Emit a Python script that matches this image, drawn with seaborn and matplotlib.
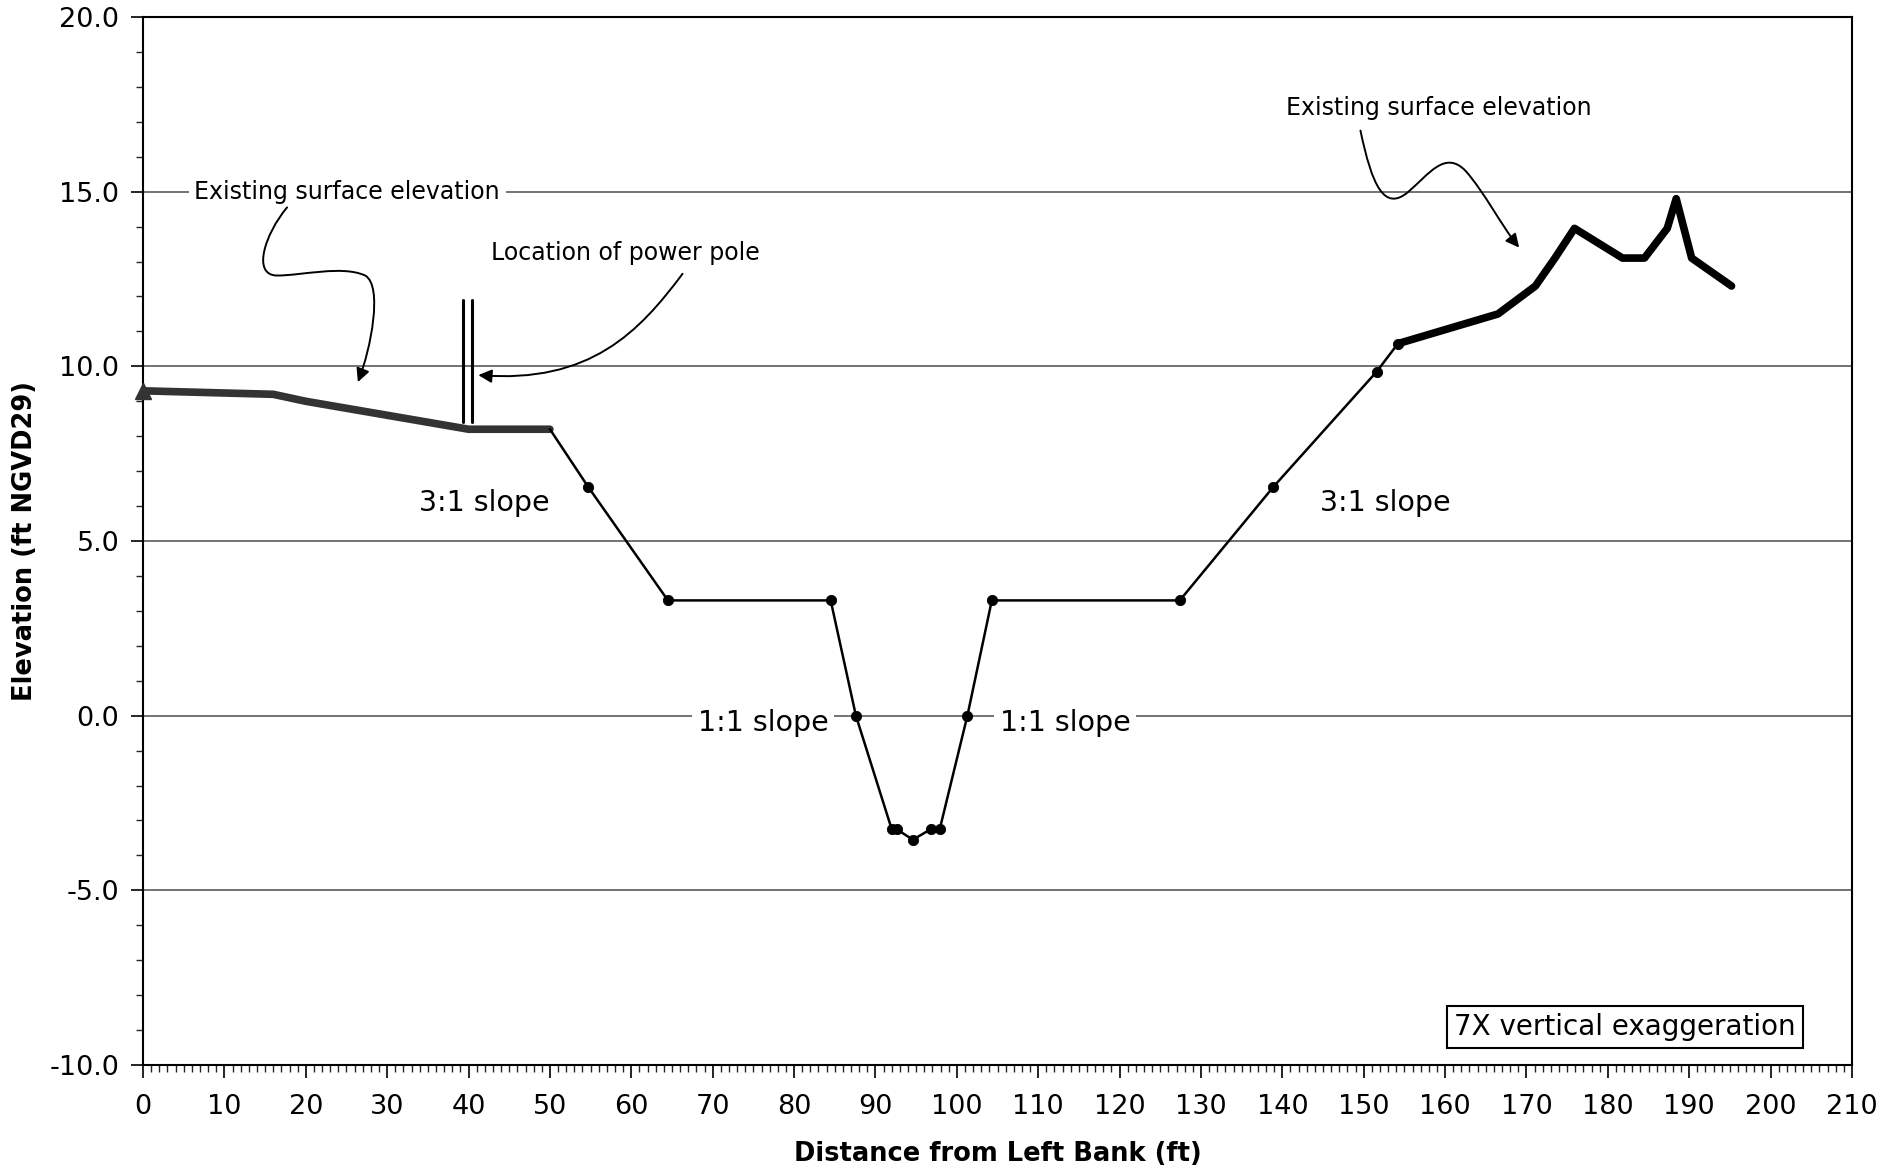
import numpy as np
import matplotlib
matplotlib.use("Agg")
import matplotlib.pyplot as plt
from matplotlib.path import Path
from matplotlib.patches import FancyArrowPatch
from matplotlib.ticker import MultipleLocator, FormatStrFormatter
import seaborn as sns

# ── Data ──────────────────────────────────────────────────────────────────────

# existing ground, left bank (thick grey)
left_x = [0, 16, 20, 40, 50]
left_y = [9.3, 9.2, 9.0, 8.2, 8.2]

# design cross-section (thin black with dots)
design_x = [50, 54.7, 64.5, 84.5, 87.6, 92.0, 92.6, 94.6, 96.8, 97.9,
            101.3, 104.3, 127.4, 138.9, 151.6, 154.2]
design_y = [8.2, 6.55, 3.3, 3.3, 0.0, -3.25, -3.25, -3.55, -3.25, -3.25,
            0.0, 3.3, 3.3, 6.55, 9.85, 10.65]

# existing ground, right bank (thick black)
right_x = [154.2, 166.5, 171.1, 173.5, 175.9, 181.8, 184.5, 187.3, 188.4, 190.3, 195.2]
right_y = [10.65, 11.5, 12.3, 13.1, 13.95, 13.1, 13.1, 13.95, 14.8, 13.1, 12.3]

# power pole (two vertical strokes)
pole_x = [39.3, 40.4]
pole_y = [8.4, 11.9]

x_label = "Distance from Left Bank (ft)"
y_label = "Elevation (ft NGVD29)"

# ── Figure ────────────────────────────────────────────────────────────────────

sns.set_style("white")
plt.rcParams["font.family"] = ["DejaVu Sans"]
plt.rcParams["axes.unicode_minus"] = False
plt.rcParams["text.color"] = "black"
plt.rcParams["axes.labelcolor"] = "black"

fig = plt.figure(figsize=(19.02, 11.66), dpi=100)
ax = fig.add_axes([0.0752, 0.0866, 0.8985, 0.8988])

ax.set_xlim(0, 210)
ax.set_ylim(-10, 20)

# horizontal gridlines
for yv in [15, 10, 5, 0, -5]:
    ax.axhline(yv, color="#4d4d4d", lw=1.1, zorder=1)

sns.lineplot(x=left_x, y=left_y, ax=ax, color="#333333", lw=5.5,
             sort=False, estimator=None, zorder=3)
ax.plot(left_x[0], left_y[0], marker="^", ms=11, color="#333333",
        clip_on=False, zorder=4)

sns.lineplot(x=design_x, y=design_y, ax=ax, color="black", lw=1.8,
             sort=False, estimator=None, zorder=3)
sns.scatterplot(x=design_x[1:], y=design_y[1:], ax=ax, color="black",
                s=55, edgecolor="black", zorder=4)

sns.lineplot(x=right_x, y=right_y, ax=ax, color="black", lw=5.5,
             sort=False, estimator=None, zorder=3)

for px in pole_x:
    ax.plot([px, px], pole_y, color="black", lw=2.2, zorder=3)

# ── Annotations ───────────────────────────────────────────────────────────────

white_box = dict(facecolor="white", edgecolor="none", pad=4)

ax.text(6.3, 15, "Existing surface elevation", fontsize=17, va="center",
        ha="left", bbox=white_box, zorder=5)
ax.text(42.8, 13.25, "Location of power pole", fontsize=17, va="center", ha="left")
ax.text(41.9, 6.1, "3:1 slope", fontsize=20.5, va="center", ha="center")
ax.text(152.6, 6.1, "3:1 slope", fontsize=20.5, va="center", ha="center")
ax.text(76.2, -0.2, "1:1 slope", fontsize=20.5, va="center", ha="center",
        bbox=white_box, zorder=5)
ax.text(113.3, -0.2, "1:1 slope", fontsize=20.5, va="center", ha="center",
        bbox=white_box, zorder=5)
ax.text(159.2, 17.4, "Existing surface elevation", fontsize=17, va="center",
        ha="center")
ax.text(182.1, -8.92, "7X vertical exaggeration", fontsize=20, va="center",
        ha="center", bbox=dict(facecolor="white", edgecolor="black", lw=1.5, pad=5))


def curly_arrow(verts):
    codes = [Path.MOVETO] + [Path.CURVE4] * (len(verts) - 1)
    arrow = FancyArrowPatch(path=Path(verts, codes), arrowstyle="-|>",
                            mutation_scale=20, lw=1.4, color="black",
                            transform=ax.transData, zorder=6)
    ax.add_patch(arrow)


# left bank label -> ground line
curly_arrow([(17.7, 14.55), (15.0, 13.8), (13.3, 12.6), (16.5, 12.6),
             (19.5, 12.6), (24.5, 12.9), (27.3, 12.6),
             (29.5, 12.3), (28.0, 10.5), (26.4, 9.55)])
# power pole label -> pole
curly_arrow([(66.3, 12.65), (61.0, 11.0), (55.0, 9.5), (41.2, 9.75)])
# right bank label -> ground line
curly_arrow([(149.6, 16.75), (151.0, 15.2), (152.5, 14.4), (155.5, 15.0),
             (158.0, 15.5), (160.0, 16.2), (162.5, 15.6),
             (164.8, 15.0), (167.0, 14.0), (169.1, 13.4)])

# ── Axes styling ──────────────────────────────────────────────────────────────

for side in ["left", "right", "top", "bottom"]:
    ax.spines[side].set_visible(True)
    ax.spines[side].set_color("black")
    ax.spines[side].set_linewidth(1.5)

ax.xaxis.set_major_locator(MultipleLocator(10))
ax.xaxis.set_minor_locator(MultipleLocator(1))
ax.yaxis.set_major_locator(MultipleLocator(5))
ax.yaxis.set_minor_locator(MultipleLocator(1))
ax.yaxis.set_major_formatter(FormatStrFormatter("%.1f"))

ax.tick_params(axis="both", which="major", direction="out", length=9, width=1.2,
               labelsize=19.5, colors="black", left=True, bottom=True)
ax.tick_params(axis="both", which="minor", direction="out", length=5, width=1,
               left=True, bottom=True)
ax.tick_params(axis="x", which="major", pad=12)
ax.tick_params(axis="y", which="major", pad=8)

ax.set_xlabel(x_label, fontsize=18.5, fontweight="bold", labelpad=15)
ax.set_ylabel(y_label, fontsize=18.5, fontweight="bold", labelpad=8)

fig.savefig("out.png", dpi=100, facecolor="white")
